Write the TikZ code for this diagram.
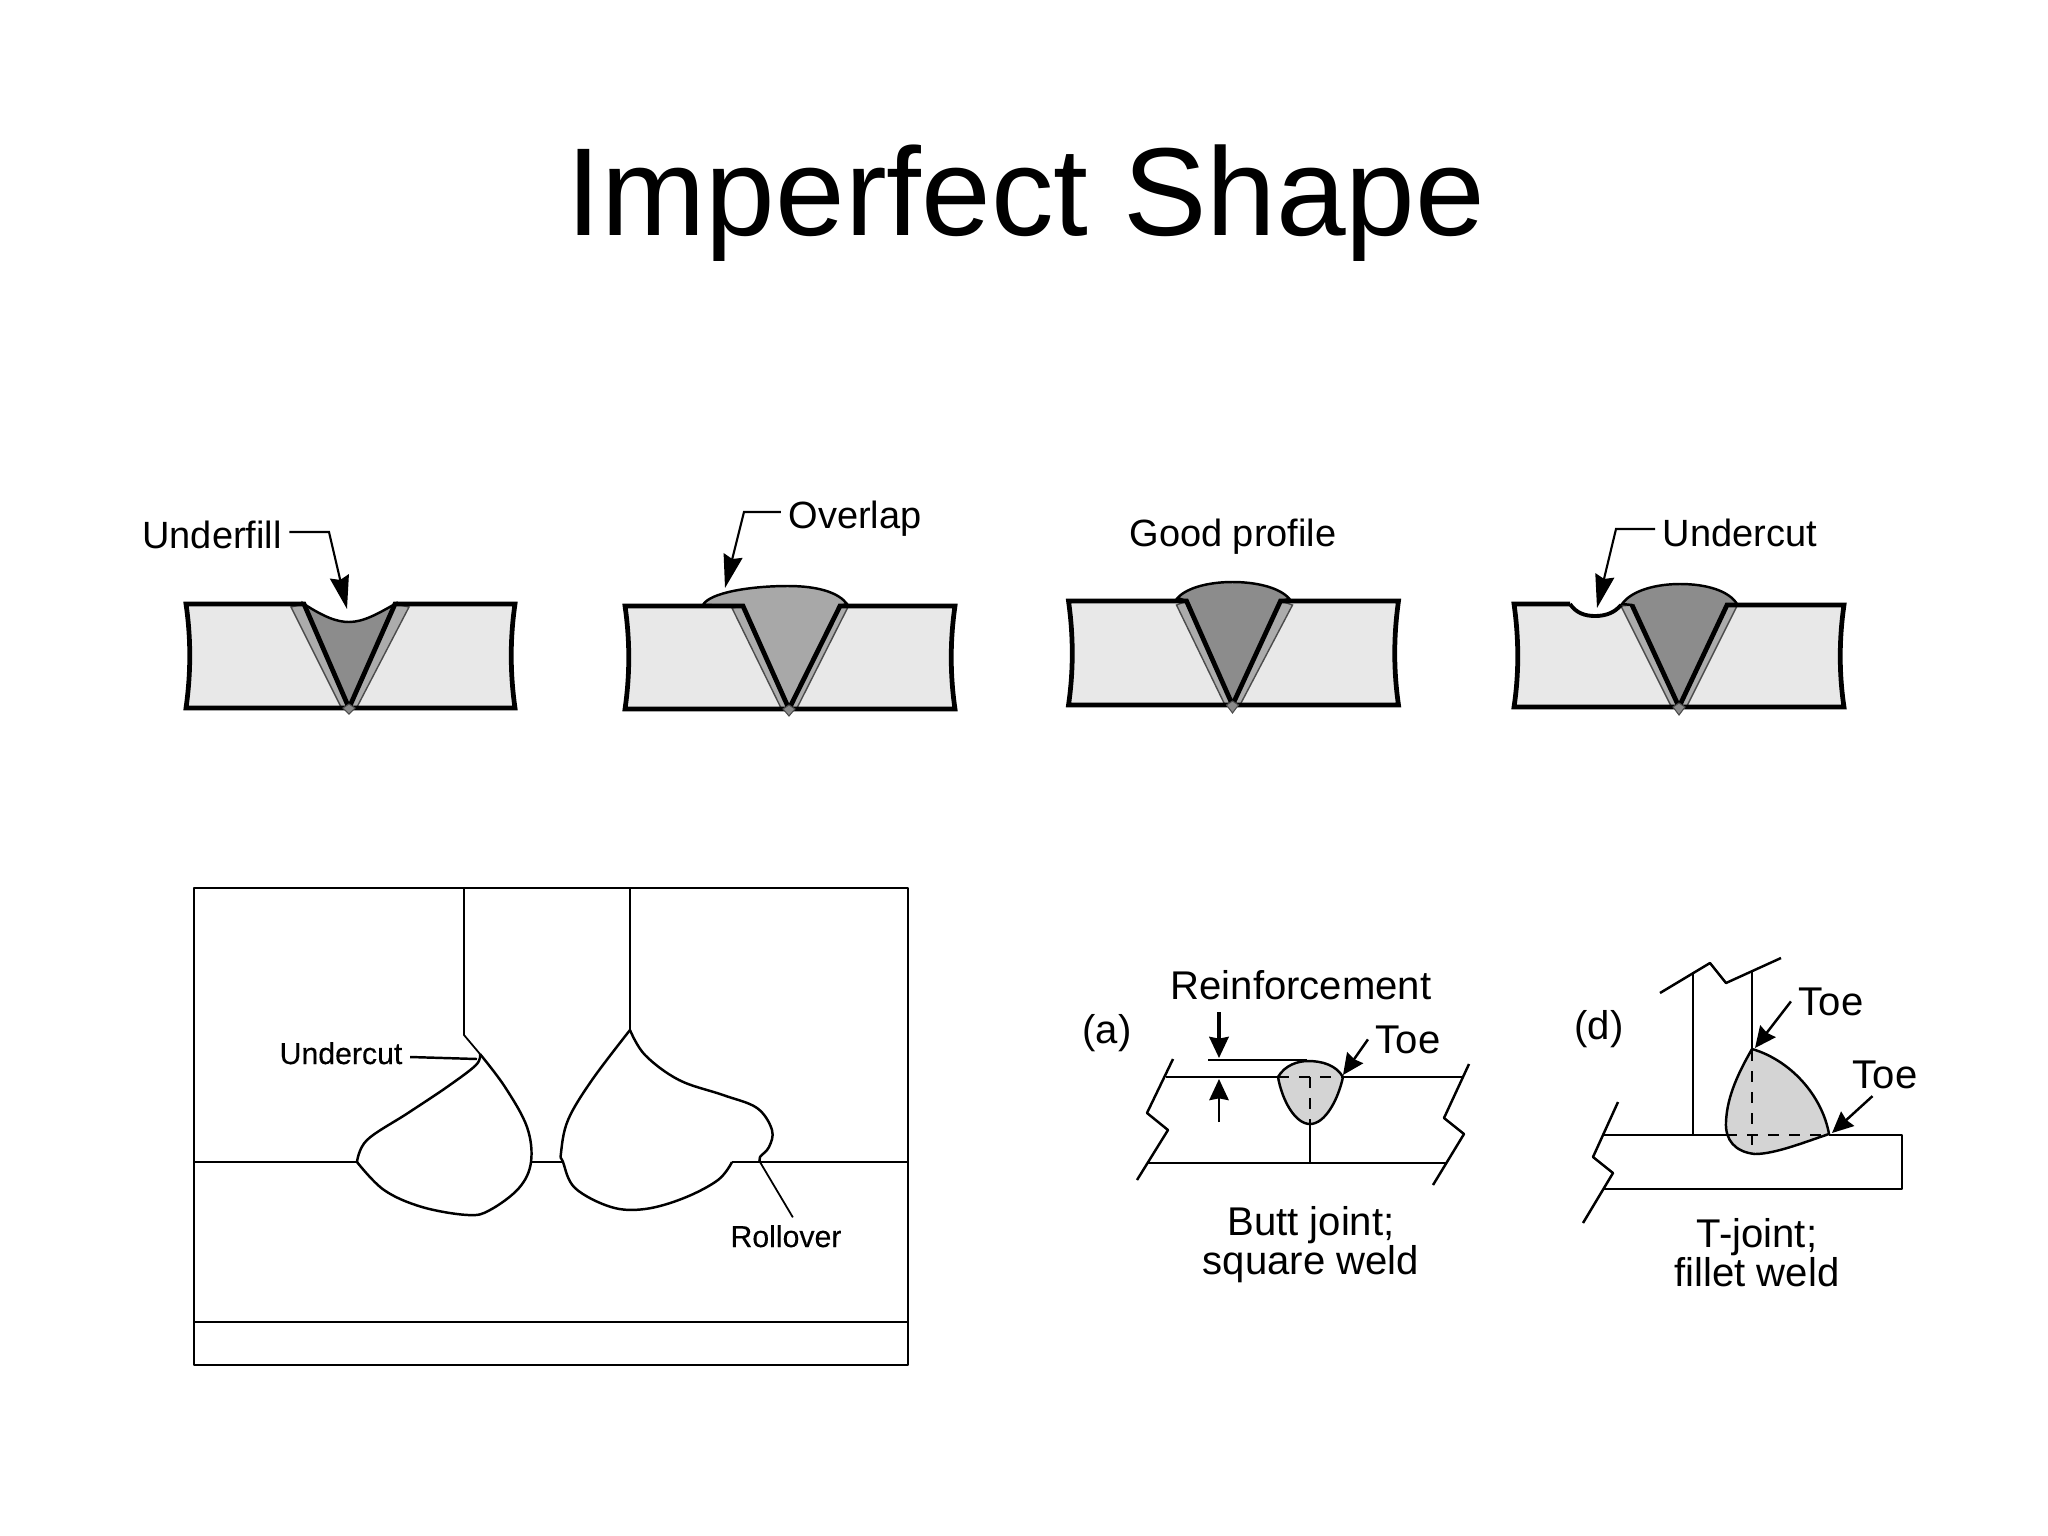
\documentclass[tikz,border=0pt]{standalone}
\usepackage{fontspec}
\setmainfont{Liberation Sans}
\newfontfamily\semibold[FakeBold=0.3]{Liberation Sans}
\usetikzlibrary{
  arrows.meta,
  positioning,
}
\definecolor{basemetal}{RGB}{232, 232, 232}
\definecolor{hazgray}{RGB}{172, 172, 172}
\definecolor{weldgray}{RGB}{140, 140, 140}
\definecolor{lightweld}{RGB}{168, 168, 168}
\definecolor{filletgray}{RGB}{212, 212, 212}
\tikzstyle{plate} = [line width=1.35pt, line join=miter]
\tikzstyle{haz} = [fill=hazgray, draw=black!70, line width=0.4pt]
\tikzstyle{weld} = [draw=black, line width=0.7pt]
\tikzstyle{tipdot} = [fill=hazgray!80!black, draw=black!70, line width=0.3pt]
\tikzstyle{leader} = [
  -{Stealth[length=9.5pt,width=5.5pt,inset=1pt]},
  line width=0.6pt,
]
\tikzstyle{toearrow} = [
  -{Stealth[length=6pt,width=5.5pt,inset=0.5pt]},
  line width=0.7pt,
]
\tikzstyle{fine} = [line width=0.7pt, line join=round]
\tikzstyle{hair} = [line width=0.5pt, line join=round]
\tikzstyle{lbl} = [anchor=base, inner sep=2pt, font=\fontsize{10.8}{11}\selectfont, align=center]
\tikzstyle{jointlbl} = [anchor=base, inner sep=2pt, font=\fontsize{11.4}{11}\selectfont, align=center]
\tikzstyle{smalllbl} = [anchor=base, inner sep=2pt, font=\semibold\fontsize{8.6}{10}\selectfont]

\begin{document}
\begin{tikzpicture}[x=0.01cm, y=-0.01cm]
      \useasboundingbox (0,0) rectangle (2048,1536);

      \node[anchor=base,font=\fontsize{35.6}{40}\selectfont] (title) at (1026,235) {Imperfect Shape};

      % top row
      \begin{scope}[shift={(349,713)}]
        \fill[basemetal] (-163,-109) -- (-45,-109) -- (0,-5) -- (46,-109) -- (166,-109) .. controls (161,-75) and (161,-40) .. (166,-5) -- (-163,-5) .. controls (-158,-40) and (-158,-75) .. (-163,-109) -- cycle;
        \draw[haz] (-58,-106) -- (-8,-6) -- (8,-6) -- (60,-106) -- (46,-109) -- (0,-5) -- (-45,-109) -- cycle;
        \draw[weld,fill=weldgray] (-45,-109) .. controls (-25,-96) and (-12,-91) .. (0,-91) .. controls (15,-91) and (30,-100) .. (46,-109) -- (0,-5) -- cycle;
        \draw[plate] (-45,-109) -- (-163,-109) .. controls (-158,-75) and (-158,-40) .. (-163,-5) -- (166,-5) .. controls (161,-40) and (161,-75) .. (166,-109) -- (46,-109) -- (0,-5) -- cycle;
        \draw[tipdot] (-6,-5) -- (0,1) -- (6,-5) -- (0,-9) -- cycle;
      \end{scope}
      \begin{scope}[shift={(789,715)}]
        \fill[basemetal] (-164,-109) -- (-46,-109) -- (0,-6) -- (51,-109) -- (166,-109) .. controls (161,-75) and (161,-40) .. (166,-6) -- (-164,-6) .. controls (-159,-40) and (-159,-75) .. (-164,-109) -- cycle;
        \draw[haz] (-57,-107) -- (-8,-7) -- (8,-7) -- (59,-108) -- (51,-109) -- (0,-6) -- (-46,-109) -- cycle;
        \draw[weld,fill=lightweld] (-86,-110) .. controls (-80,-122) and (-40,-129) .. (-1,-129) .. controls (30,-129) and (50,-122) .. (58,-111) -- (51,-109) -- (0,-6) -- (-46,-109) -- cycle;
        \draw[plate] (-46,-109) -- (-164,-109) .. controls (-159,-75) and (-159,-40) .. (-164,-6) -- (166,-6) .. controls (161,-40) and (161,-75) .. (166,-109) -- (51,-109) -- (0,-6) -- cycle;
        \draw[tipdot] (-6,-6) -- (0,1) -- (6,-6) -- (0,-10) -- cycle;
      \end{scope}
      \begin{scope}[shift={(1232.5,713)}]
        \fill[basemetal] (-164,-112) -- (-46,-112) -- (0,-8) -- (48,-112) -- (166,-112) .. controls (161,-77) and (161,-42) .. (166,-8) -- (-164,-8) .. controls (-159,-42) and (-159,-77) .. (-164,-112) -- cycle;
        \draw[haz] (-56,-108) -- (-8,-9) -- (8,-9) -- (60,-108) -- (48,-112) -- (0,-8) -- (-46,-112) -- cycle;
        \draw[weld,fill=weldgray] (-55,-115) .. controls (-45,-126) and (-22,-131) .. (0,-131) .. controls (25,-131) and (48,-125) .. (57,-114) -- (48,-112) -- (0,-8) -- (-46,-112) -- cycle;
        \draw[plate] (-46,-112) -- (-164,-112) .. controls (-159,-77) and (-159,-42) .. (-164,-8) -- (166,-8) .. controls (161,-42) and (161,-77) .. (166,-112) -- (48,-112) -- (0,-8) -- cycle;
        \draw[tipdot] (-6,-8) -- (0,0) -- (6,-8) -- (0,-12) -- cycle;
      \end{scope}
      \begin{scope}[shift={(1679,714)}]
        \fill[basemetal] (-165,-110) -- (-109,-110) .. controls (-103,-101) and (-94,-98) .. (-84,-98) .. controls (-72,-98) and (-64,-102) .. (-58,-109) -- (-47,-109) -- (0,-7) -- (48,-109) -- (165,-109) .. controls (160,-75) and (160,-40) .. (165,-7) -- (-165,-7) .. controls (-160,-40) and (-160,-75) .. (-165,-110) -- cycle;
        \draw[haz] (-58,-108) -- (-8,-8) -- (8,-8) -- (58,-108) -- (48,-109) -- (0,-7) -- (-47,-109) -- cycle;
        \draw[weld,fill=weldgray] (-57,-110) .. controls (-47,-124) and (-22,-130) .. (1,-130) .. controls (28,-130) and (50,-123) .. (58,-110) -- (48,-109) -- (0,-7) -- (-47,-109) -- cycle;
        \draw[plate] (-47,-109) -- (0,-7) -- (48,-109) -- (165,-109) .. controls (160,-75) and (160,-40) .. (165,-7) -- (-165,-7) .. controls (-160,-40) and (-160,-75) .. (-165,-110) -- (-109,-110);
        \draw[line width=1.1pt] (-109,-110) .. controls (-103,-101) and (-94,-98) .. (-84,-98) .. controls (-72,-98) and (-64,-102) .. (-58,-109);
        \draw[tipdot] (-6,-7) -- (0,1) -- (6,-7) -- (0,-11) -- cycle;
      \end{scope}

      \node[lbl] (underfill) at (212,548) {Underfill};
      \node[lbl] (overlap) at (855,528) {Overlap};
      \node[lbl] (goodprofile) at (1233,546) {Good profile};
      \node[lbl] (undercut) at (1740,546) {Undercut};
      \coordinate (underfillbend) at (329,532);
      \coordinate (underfilltip) at (347,609);
      \coordinate (overlapbend) at (744,512);
      \coordinate (overlaptip) at (725,588);
      \coordinate (undercutbend) at (1616,529);
      \coordinate (undercuttip) at (1597,608);
      \draw[leader] (underfill.east |- underfillbend) -- (underfillbend) -- (underfilltip);
      \draw[leader] (overlap.west |- overlapbend) -- (overlapbend) -- (overlaptip);
      \draw[leader] (undercut.west |- undercutbend) -- (undercutbend) -- (undercuttip);

      % section view
      \draw[hair] (194,888) rectangle (908,1365);
      \draw[hair] (194,1322) -- (908,1322);
      \draw[hair] (464,888) -- (464,1035) -- (480,1054);
      \draw[hair] (630,888) -- (630,1030);
      \draw[hair] (194,1162) -- (357,1162);
      \draw[line width=0.8pt] (531,1162) -- (563,1162);
      \draw[hair] (732,1162) -- (908,1162);
      \draw[fine] plot[smooth,tension=0.6] coordinates {(480,1054) (505,1087) (527,1127) (531,1162) (519,1188) (490,1210) (468,1215) (422,1207) (384,1190) (357,1162)};
      \draw[fine] plot[smooth,tension=0.6] coordinates {(357,1162) (367,1140) (408,1113) (447,1087) (476,1065) (480,1054)};
      \draw[fine] plot[smooth,tension=0.6] coordinates {(630,1030) (592,1080) (568,1120) (561,1153) (563,1162) (575,1188) (611,1207) (645,1209) (684,1198) (718,1180) (732,1162)};
      \draw[fine] plot[smooth,tension=0.6] coordinates {(630,1030) (645,1055) (679,1080) (723,1095) (757,1108) (772,1130) (769,1147) (760,1157) (760,1162)};

      \node[smalllbl] (undercutview) at (341,1064) {Undercut};
      \node[smalllbl] (rollover) at (786,1247) {Rollover};
      \coordinate (undercutend) at (477,1059);
      \coordinate (rolloverstart) at (760,1162);
      \draw[fine] (undercutview.east |- 416,1057) -- (undercutend);
      \draw[hair] (rolloverstart) -- (rollover.70);

      % butt joint
      \draw[weld,fill=filletgray] (1278,1077) .. controls (1285,1065) and (1298,1061) .. (1308,1061) .. controls (1322,1061) and (1336,1065) .. (1343,1077) .. controls (1338,1100) and (1325,1124) .. (1310,1124) .. controls (1295,1124) and (1282,1100) .. (1278,1077) -- cycle;
      \draw[fine] (1166,1077) -- (1278,1077);
      \draw[fine] (1343,1077) -- (1463,1077);
      \draw[fine] (1147,1163) -- (1447,1163);
      \draw[fine] (1310,1124) -- (1310,1163);
      \draw[fine,dashed] (1278,1077) -- (1343,1077);
      \draw[fine,dashed] (1310,1077) -- (1310,1124);
      \draw[fine] (1173,1059) -- (1147,1113) -- (1168,1130) -- (1137,1180);
      \draw[fine] (1469,1064) -- (1444,1118) -- (1464,1134) -- (1433,1185);
      \draw[fine] (1208,1060) -- (1307,1060);

      \node[jointlbl] (reinforcement) at (1301,999) {Reinforcement};
      \node[jointlbl] (labela) at (1107,1043) {(a)};
      \node[jointlbl] (toea) at (1408,1053) {Toe};
      \node[jointlbl] (buttjoint) at (1311,1274) {Butt joint;\\square weld};
      \coordinate (reinftop) at (1219,1012);
      \coordinate (reinftopend) at (1219,1058);
      \coordinate (reinfbot) at (1219,1122);
      \coordinate (reinfbotend) at (1219,1079);
      \coordinate (toeatip) at (1343,1075);
      \draw[toearrow,line width=1pt] (reinftop) -- (reinftopend);
      \draw[toearrow] (reinfbot) -- (reinfbotend);
      \draw[toearrow] (toea.west) -- (toeatip);

      % fillet joint
      \draw[weld,fill=filletgray] (1752,1049) .. controls (1790,1060) and (1822,1095) .. (1829,1134) .. controls (1805,1142) and (1775,1154) .. (1755,1154) .. controls (1735,1152) and (1725,1140) .. (1726,1122) .. controls (1727,1095) and (1740,1070) .. (1752,1049) -- cycle;
      \draw[fine] (1660,993) -- (1710,963) -- (1726,983) -- (1781,958);
      \draw[fine] (1693,973) -- (1693,1135);
      \draw[fine] (1752,972) -- (1752,1049);
      \draw[fine] (1604,1135) -- (1726,1135);
      \draw[fine] (1829,1135) -- (1902,1135) -- (1902,1189) -- (1604,1189);
      \draw[fine] (1618,1102) -- (1593,1157) -- (1613,1173) -- (1583,1223);
      \draw[fine,dashed] (1752,1050) -- (1752,1154);
      \draw[fine,dashed] (1726,1135) -- (1829,1135);

      \node[jointlbl] (toedtop) at (1831,1015) {Toe};
      \node[jointlbl] (toedright) at (1885,1088) {Toe};
      \node[jointlbl] (labeld) at (1599,1039) {(d)};
      \node[jointlbl] (tjoint) at (1757,1286) {T-joint;\\fillet weld};
      \coordinate (toedtoptip) at (1755,1048);
      \coordinate (toedrighttip) at (1832,1133);
      \draw[toearrow] (toedtop.west) -- (toedtoptip);
      \draw[toearrow] (toedright.240) -- (toedrighttip);

    \end{tikzpicture}
\end{document}
